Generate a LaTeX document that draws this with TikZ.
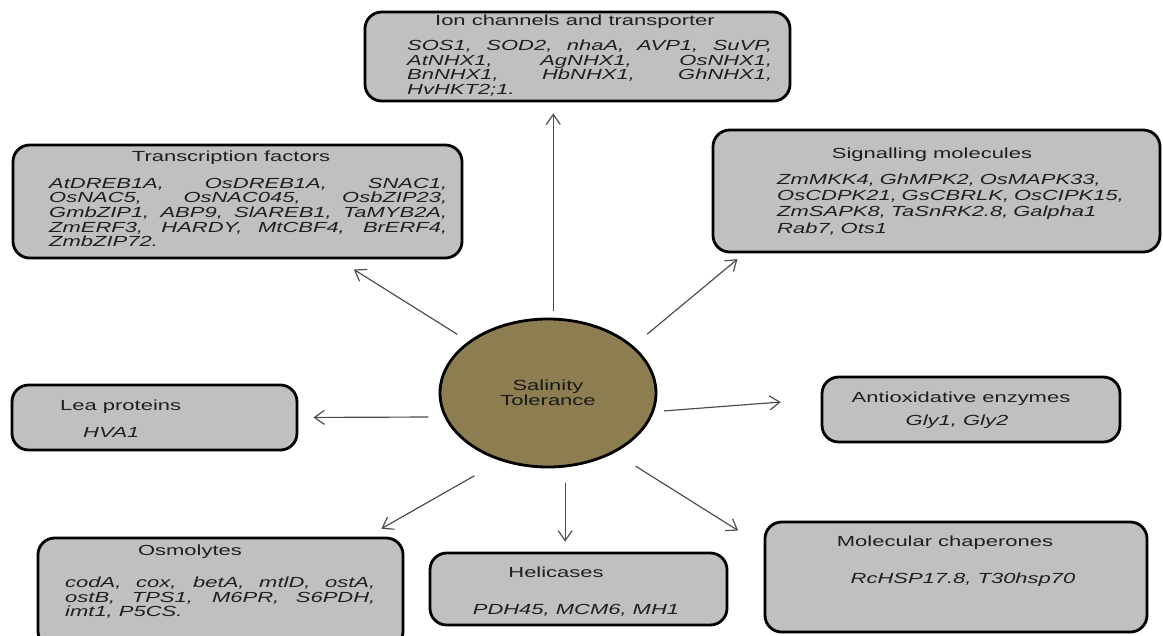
\documentclass[tikz,border=0pt]{standalone}
\usepackage{fontspec}
\setmainfont{Liberation Sans}[FakeStretch=1.5]
\usetikzlibrary{arrows.meta, shapes.geometric}
\definecolor{boxgray}{RGB}{192,192,192}
\definecolor{saltolive}{RGB}{140,126,80}
\newcommand{\boxfont}{\fontsize{12.5}{12.4}\selectfont}

\begin{document}
\begin{tikzpicture}[x=0.03cm, y=-0.03cm,
  box/.style={draw, line width=2.4pt, rounded corners=0.5cm, fill=boxgray, inner sep=0pt},
  hub/.style={ellipse, draw, line width=2.4pt, fill=saltolive, minimum width=6.48cm,
              minimum height=4.44cm, align=center, font=\boxfont, text=black!90},
  ttl/.style={font=\boxfont, text=black!88, inner sep=0pt},
  genes/.style={font=\boxfont\itshape, text=black!88, inner sep=0pt, align=justify},
  arr/.style={-{Straight Barb[length=0.3cm, width=0.42cm]}, line width=1pt, draw=black!70}
]
  \useasboundingbox (0,0) rectangle (1163,635);
  \clip (0,0) rectangle (1163,635);

  \node[hub] (st) at (548,393) {Salinity\\Tolerance};

  \node[box, minimum width=12.75cm, minimum height=2.67cm] (ion)  at (577.5,56.5) {};
  \node[box, minimum width=13.47cm, minimum height=3.39cm] (tf)   at (237.5,201.5) {};
  \node[box, minimum width=13.41cm, minimum height=3.66cm] (sig)  at (936.5,191) {};
  \node[box, minimum width=8.55cm,  minimum height=1.95cm] (lea)  at (154.5,417.5) {};
  \node[box, minimum width=8.94cm,  minimum height=1.95cm] (ao)   at (971,409.5) {};
  \node[box, minimum width=10.95cm, minimum height=3.3cm]  (osm)  at (220.5,593) {};
  \node[box, minimum width=8.91cm,  minimum height=2.16cm] (hel)  at (578.5,589) {};
  \node[box, minimum width=11.46cm, minimum height=3.3cm]  (chap) at (956,577) {};

  % titles
  \node[ttl] (iont)  at (575,22)  {Ion channels and transporter};
  \node[ttl] (tft)   at (231,158) {Transcription factors};
  \node[ttl] (sigt)  at (932,155) {Signalling molecules};
  \node[ttl, anchor=west] (leat) at (60,407) {Lea proteins};
  \node[ttl] (aot)   at (961,399) {Antioxidative enzymes};
  \node[ttl] (osmt)  at (190,552) {Osmolytes};
  \node[ttl] (helt)  at (556,572) {Helicases};
  \node[ttl] (chapt) at (945,543) {Molecular chaperones};

  % gene lists
  \node[genes, text width=10.95cm, anchor=north west] (ionl) at (407,40)
    {SOS1, SOD2, nhaA, AVP1, SuVP,\linebreak AtNHX1, AgNHX1, OsNHX1,\linebreak
     BnNHX1, HbNHX1, GhNHX1,\linebreak HvHKT2;1.};
  \node[genes, text width=11.94cm, anchor=north west] (tfl) at (49,178)
    {AtDREB1A, OsDREB1A, SNAC1,\linebreak OsNAC5, OsNAC045, OsbZIP23,\linebreak
     GmbZIP1, ABP9, SlAREB1, TaMYB2A,\linebreak ZmERF3, HARDY, MtCBF4, BrERF4,\linebreak
     ZmbZIP72.};
  \node[genes, text width=11.1cm, anchor=north west, align=left,
        font=\fontsize{12.5}{13.7}\selectfont\itshape] (sigl) at (777,174)
    {ZmMKK4, GhMPK2, OsMAPK33,\\ OsCDPK21, GsCBRLK, OsCIPK15,\\
     ZmSAPK8, TaSnRK2.8, Galpha1\\ Rab7, Ots1};
  \node[genes, anchor=west] (leal) at (83,432) {HVA1};
  \node[genes] (aol) at (957,422) {Gly1, Gly2};
  \node[genes, text width=9.3cm, anchor=north west] (osml) at (65,577)
    {codA, cox, betA, mtlD, ostA,\linebreak ostB, TPS1, M6PR, S6PDH,\linebreak
     imt1, P5CS.};
  \node[genes] (hell)  at (576,610) {PDH45, MCM6, MH1};
  \node[genes] (chapl) at (963,580) {RcHSP17.8, T30hsp70};

  \draw[arr, shorten <=0.21cm, shorten >=0.33cm] (st.86) -- (st.86 |- ion.south);
  \draw[arr, shorten <=0.39cm, shorten >=0.57cm] (st.147.7) -- (tf.-30.35);
  \draw[arr, shorten <=0.54cm, shorten >=0.27cm] (st.29.2) -- (sig.198);
  \draw[arr, shorten <=0.48cm, shorten >=0.45cm] (st.193.8) -- (lea.east);
  \draw[arr, shorten <=0.3cm, shorten >=1.2cm] (st.-10.3) -- (ao.176.9);
  \draw[arr, shorten <=0.9cm, shorten >=0.48cm] (st.235.5) -- (osm.21);
  \draw[arr, shorten <=0.48cm, shorten >=0.3cm] (st.-77) -- (st.-77 |- hel.north);
  \draw[arr, shorten <=0.75cm, shorten >=0.9cm] (st.-42.9) -- (chap.171.7);
\end{tikzpicture}
\end{document}
